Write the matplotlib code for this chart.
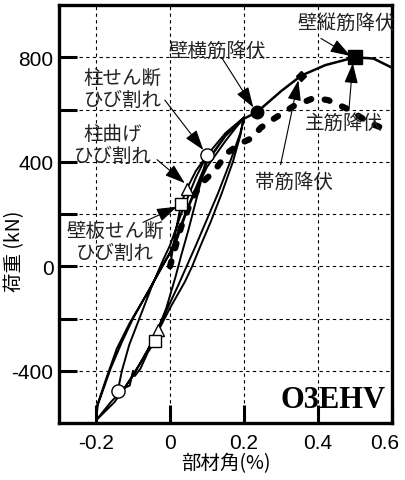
import numpy as np
import matplotlib.pyplot as plt
import matplotlib.transforms as mtransforms

plt.rcParams['font.family'] = ['Liberation Sans', 'DejaVu Sans']
plt.rcParams['axes.unicode_minus'] = False
JP = ['Noto Sans CJK JP', 'DejaVu Sans']

# measured hysteresis loops (drift %, load kN)
loop_x = [0.0, 0.015, 0.03, 0.045, 0.07, 0.1,
          0.09, 0.07, 0.05, 0.03, 0.015,
          -0.01, -0.033, -0.04, -0.06, -0.08, -0.095, -0.1, -0.109, -0.141,
          -0.13, -0.11, -0.08, -0.05, -0.02, 0.0,
          0.03, 0.07, 0.1, 0.15, 0.2,
          0.19, 0.17, 0.14, 0.11, 0.08, 0.06, 0.04,
          0.0, -0.04, -0.08, -0.12, -0.16, -0.2,
          -0.198, -0.17, -0.144, -0.11, -0.082, -0.035, 0.0, 0.019,
          0.05, 0.1, 0.15, 0.2,
          0.19, 0.16, 0.13, 0.1, 0.07, 0.045, 0.02,
          -0.02, -0.06, -0.1, -0.15, -0.2,
          -0.195, -0.16, -0.13, -0.1, -0.06, -0.03, 0.0]
loop_y = [0, 130, 240, 295, 365, 425,
          360, 250, 140, 40, -40,
          -160, -244, -286, -330, -392, -420, -400, -457, -476,
          -400, -300, -190, -80, 20, 80,
          200, 340, 425, 510, 570,
          500, 400, 280, 170, 70, 0, -60,
          -160, -270, -370, -460, -520, -590,
          -537, -420, -316, -220, -152, -38, 53, 103,
          230, 380, 480, 570,
          510, 390, 280, 180, 80, 0, -80,
          -200, -320, -420, -520, -590,
          -530, -390, -290, -200, -100, -20, 50]

# final push to 0.6 %
env_x = [0.0, 0.05, 0.1, 0.15, 0.2, 0.235, 0.3, 0.355, 0.42, 0.5, 0.55, 0.6]
env_y = [50, 230, 400, 500, 565, 590, 670, 730, 770, 800, 795, 760]

# analysis
ana_x = [0.0, 0.03, 0.06, 0.087, 0.109, 0.128, 0.155, 0.19, 0.222, 0.245,
         0.28, 0.334, 0.389, 0.427, 0.48, 0.54, 0.6]
ana_y = [0, 150, 260, 320, 350, 381, 434, 470, 491, 530,
         564, 613, 644, 636, 602, 548, 515]

# events
open_circle = ([0.1, -0.141], [425, -476])
open_tri = ([0.045, -0.033], [295, -244])
open_sq = ([0.03, -0.04], [240, -286])
wall_h_yield = (0.235, 590)
wall_v_yield = (0.5, 800)
hoop_yield = (0.355, 730)

fig = plt.figure(figsize=(4.05, 4.81), dpi=100)
ax = fig.add_axes([0.1457, 0.1185, 0.8222, 0.869])

ax.plot(loop_x, loop_y, color='black', lw=1.4, zorder=3)
ax.plot(env_x, env_y, color='black', lw=1.8, zorder=3)
ax.plot(ana_x, ana_y, color='black', lw=4.5, linestyle=(0, (0.8, 2.2)),
        dash_capstyle='round', zorder=2)

ax.plot(*open_circle, 'o', ms=9.5, mfc='white', mec='black', mew=1, zorder=5)
ax.plot(*open_tri, '^', ms=9, mfc='white', mec='black', mew=1, zorder=5)
ax.plot(*open_sq, 's', ms=9, mfc='white', mec='black', mew=1, zorder=5)
ax.plot(*wall_h_yield, 'o', ms=9, color='black', zorder=5)
ax.plot(*wall_v_yield, 's', ms=9.5, color='black', zorder=5)
ax.plot(*hoop_yield, 'D', ms=5, color='black', zorder=5)

ax.set_xlim(-0.3, 0.6)
ax.set_ylim(-600, 1000)
ax.set_xticks([-0.2, 0, 0.2, 0.4, 0.6])
ax.set_xticklabels(['-0.2', '0', '0.2', '0.4', '0.6'])
ax.set_yticks([-400, 0, 400, 800])
ax.set_yticks([-200, 200, 600], minor=True)
ax.tick_params(which='both', direction='in', length=13, width=2.2,
               labelsize=15, pad=4)
ax.tick_params(axis='x', pad=7)
for s in ax.spines.values():
    s.set_linewidth(2.4)

# the last x label sits on the figure edge; nudge it inward a little
last = ax.get_xticklabels()[-1]
last.set_transform(last.get_transform() +
                   mtransforms.ScaledTranslation(-5 / 72, 0, fig.dpi_scale_trans))

for xv in [-0.2, 0, 0.2, 0.4]:
    ax.axvline(xv, color='black', lw=0.8, ls=(0, (3, 3)), zorder=1)
for yv in [-400, -200, 0, 200, 400, 600, 800]:
    ax.axhline(yv, color='black', lw=0.8, ls=(0, (3, 3)), zorder=1)

ax.set_xlabel('部材角(%)', family=JP, fontsize=14, labelpad=0)
fig.text(0.037, 0.478, '荷重 (kN)', family=JP, fontsize=14, rotation=90,
         ha='center', va='center')

ax.text(0.584, -537, 'O3EHV', family='Liberation Serif', fontweight='bold',
        fontsize=22, ha='right', va='baseline', zorder=6)

arrow = dict(arrowstyle='-|>,head_length=0.9,head_width=0.3', color='black',
             lw=0.8, shrinkA=0, shrinkB=0, mutation_scale=14)
labels = [
    ('壁縦筋降伏', (0.476, 933), (0.408, 872), (0.488, 805)),
    ('壁横筋降伏', (0.128, 827), (0.141, 796), (0.225, 608)),
    ('柱せん断\nひび割れ', (-0.128, 680), (-0.014, 636), (0.09, 445)),
    ('柱曲げ\nひび割れ', (-0.155, 467), (-0.035, 408), (0.04, 318)),
    ('壁板せん断\nひび割れ', (-0.149, 95), (-0.073, 168), (0.019, 228)),
    ('帯筋降伏', (0.334, 324), (0.299, 389), (0.347, 712)),
    ('主筋降伏', (0.47, 549), (0.484, 606), (0.494, 778)),
]
for txt, tpos, start, end in labels:
    ax.text(*tpos, txt, family=JP, fontsize=14, ha='center', va='center',
            linespacing=1.05, color='#222222', zorder=6)
    ax.annotate('', xy=end, xytext=start, arrowprops=arrow, zorder=6)

fig.savefig('out.png', dpi=100)
